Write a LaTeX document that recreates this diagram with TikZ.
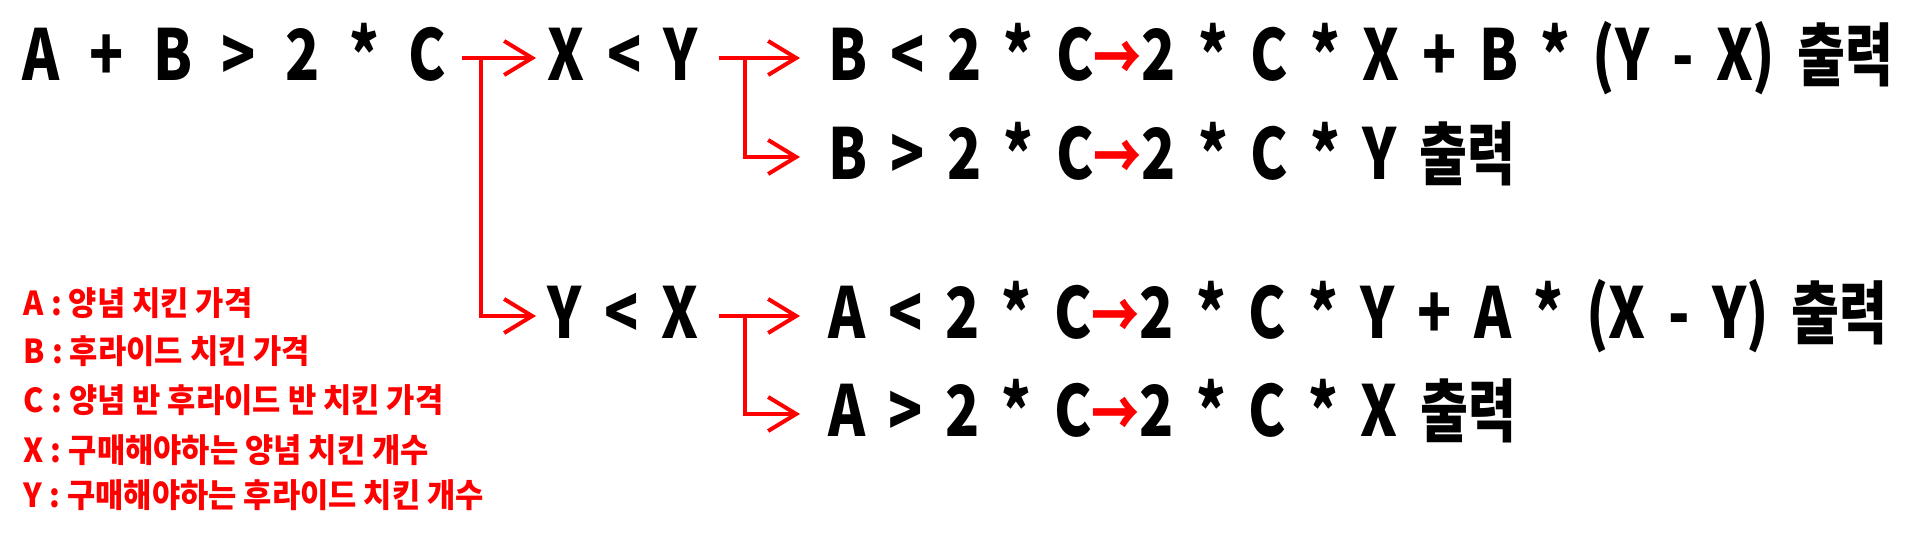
\documentclass[tikz,border=0pt]{standalone}
\usepackage{fontspec}
\usetikzlibrary{arrows.meta,calc}
\newfontfamily\krfont{Noto Sans CJK KR}[UprightFont=* Black,FakeStretch=0.8]
\newfontfamily\kroutfont{Noto Sans CJK KR}[UprightFont=* Black,FakeStretch=0.76]
\newfontfamily\krnote{Noto Sans CJK KR}[UprightFont=* Black,FakeStretch=0.93]
\definecolor{ArrowClr}{rgb}{1,0,0}
\definecolor{NoteClr}{rgb}{1,0,0}
\newcommand\outword[1]{{\kroutfont\fontsize{19.5}{20}\selectfont #1}}
\newcommand\redarrow{{\kroutfont\fontsize{18}{20}\selectfont\textcolor{ArrowClr}{→}}}

\begin{document}
\begin{tikzpicture}[
  expr/.style={font={\krfont\fontsize{20}{24}\selectfont\spaceskip=0.32em\relax},
    inner sep=0pt,text height=4.6mm,text depth=0pt,anchor=west},
  wide/.style={expr,font={\krfont\fontsize{20}{24}\selectfont\spaceskip=0.42em\relax}},
  note/.style={font={\krnote\fontsize{9.4}{10}\selectfont},text=NoteClr,
    inner sep=0pt,text height=2.2mm,text depth=0pt,anchor=west},
  arr/.style={draw=ArrowClr,line width=0.4mm,-{Straight Barb[length=2.8mm,width=3.4mm]}}]
\fill[white] (0,0) rectangle (19.2,5.4);
\useasboundingbox (0,0) rectangle (19.2,5.4);

\node[wide] (cond) at (0.22,4.82) {A + B > 2 * C};
\node[expr] (xy) at (5.47,4.82) {X < Y};
\node[expr] (yx) at (5.47,2.24) {Y < X};

\node[expr] (bc1) at (8.28,4.82) {B < 2 * C\redarrow 2 * C * X + B * (Y - X) \outword{출력}};
\node[expr] (bc2) at (8.28,3.83) {B > 2 * C\redarrow 2 * C * Y \outword{출력}};
\node[expr] (ac1) at (8.28,2.24) {A < 2 * C\redarrow 2 * C * Y + A * (X - Y) \outword{출력}};
\node[expr] (ac2) at (8.28,1.26) {A > 2 * C\redarrow 2 * C * X \outword{출력}};

\coordinate (j1) at ($(xy.west)+(-0.66,0)$);
\coordinate (j2) at ($(bc1.west)+(-0.83,0)$);
\coordinate (j3) at ($(ac1.west)+(-0.83,0)$);

\draw[arr,shorten <=1.5mm,shorten >=1.1mm] (cond.east) -- (xy.west);
\draw[arr,shorten >=1.1mm] (j1) |- (yx.west);
\draw[arr,shorten <=2mm,shorten >=2.8mm] (xy.east) -- (bc1.west);
\draw[arr,shorten >=2.8mm] (j2) |- (bc2.west);
\draw[arr,shorten <=2mm,shorten >=2.8mm] (yx.east) -- (ac1.west);
\draw[arr,shorten >=2.8mm] (j3) |- (ac2.west);

\node[note] (na) at (0.23,2.35) {A : 양념 치킨 가격};
\node[note] (nb) at (0.23,1.87) {B : 후라이드 치킨 가격};
\node[note] (nc) at (0.23,1.38) {C : 양념 반 후라이드 반 치킨 가격};
\node[note] (nx) at (0.23,0.88) {X : 구매해야하는 양념 치킨 개수};
\node[note] (ny) at (0.23,0.43) {Y : 구매해야하는 후라이드 치킨 개수};

\end{tikzpicture}
\end{document}
